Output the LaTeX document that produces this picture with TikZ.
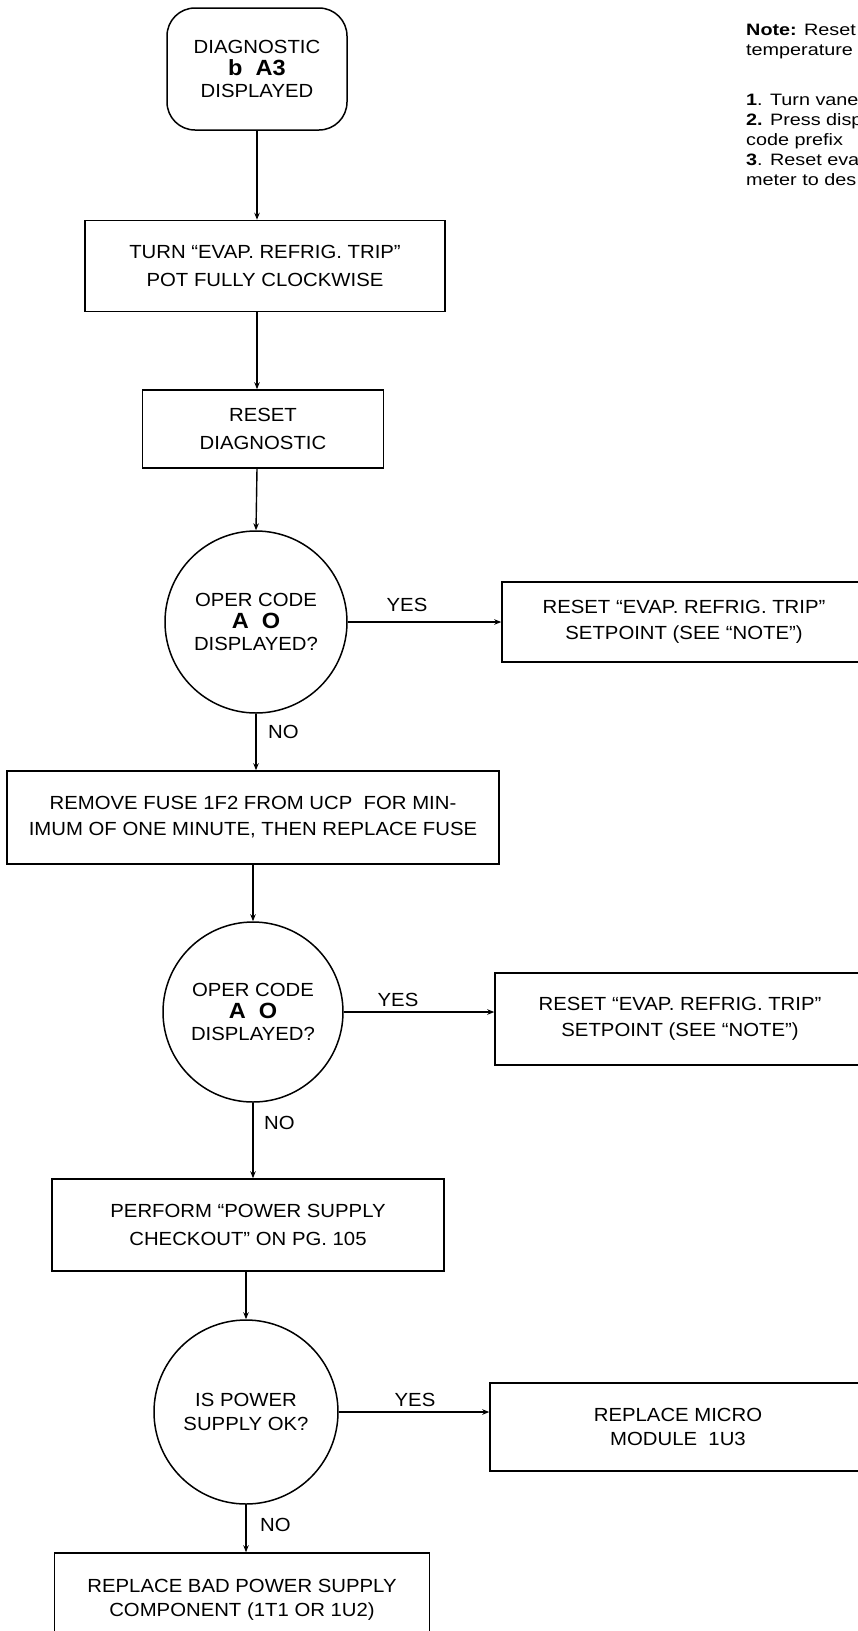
\documentclass[tikz,border=0pt]{standalone}
\usepackage{fontspec}
\setmainfont{Liberation Sans}[FakeStretch=1.07]
\newfontfamily\notefont{Liberation Sans}[FakeStretch=1.2]
\usetikzlibrary{arrows.meta}
\begin{document}
\begin{tikzpicture}[x=1pt,y=-1pt,
  every node/.style={font=\fontsize{19}{24}\selectfont},
  stepbox/.style={draw, line width=1.5pt, align=center, inner sep=0pt},
  startbox/.style={stepbox, rounded corners=28pt},
  decision/.style={circle, draw, line width=1.5pt, inner sep=0pt, align=center},
  arr/.style={line width=1.4pt, -{Stealth[length=7pt,width=5.5pt]}},
  lbl/.style={inner sep=0pt}
]
\useasboundingbox (0,0) rectangle (858,1631);
\clip (0,0) rectangle (858,1631);

% main column
\node[startbox, minimum width=180pt, minimum height=122pt] (start) at (257,69)
  {DIAGNOSTIC\\[-2pt]{\fontsize{22}{24}\selectfont\bfseries b\ \ A3}\\[-2pt]DISPLAYED};
\node[stepbox, minimum width=360pt, minimum height=91pt] (turn) at (265,266)
  {TURN “EVAP. REFRIG. TRIP”\\[4pt]POT FULLY CLOCKWISE};
\node[stepbox, minimum width=241pt, minimum height=78pt] (reset) at (263,429)
  {RESET\\[4pt]DIAGNOSTIC};
\node[decision, minimum size=182pt] (c1) at (256,622)
  {OPER CODE\\[-2pt]{\fontsize{22}{24}\selectfont\bfseries A\ \ O}\\[-2pt]DISPLAYED?};
\node[stepbox, minimum width=492pt, minimum height=93pt] (remove) at (253,817.5)
  {REMOVE FUSE 1F2 FROM UCP\ \ FOR MIN-\\[2pt]IMUM OF ONE MINUTE, THEN REPLACE FUSE};
\node[decision, minimum size=180pt] (c2) at (253,1012)
  {OPER CODE\\[-2pt]{\fontsize{22}{24}\selectfont\bfseries A\ \ O}\\[-2pt]DISPLAYED?};
\node[stepbox, minimum width=392pt, minimum height=92pt] (perform) at (248,1225)
  {PERFORM “POWER SUPPLY\\[4pt]CHECKOUT” ON PG. 105};
\node[decision, minimum size=184pt] (c3) at (246,1412)
  {IS POWER\\SUPPLY OK?};
\node[stepbox, minimum width=375pt, minimum height=94pt] (bad) at (242,1600)
  {REPLACE BAD POWER SUPPLY\\COMPONENT (1T1 OR 1U2)};

% right-hand results
\node[stepbox, minimum width=364pt, minimum height=80pt] (fix1) at (684,622)
  {RESET “EVAP. REFRIG. TRIP”\\[2pt]SETPOINT (SEE “NOTE”)};
\node[stepbox, minimum width=370pt, minimum height=92pt] (fix2) at (680,1019)
  {RESET “EVAP. REFRIG. TRIP”\\[2pt]SETPOINT (SEE “NOTE”)};
\node[stepbox, minimum width=376pt, minimum height=88pt] (micro) at (678,1427)
  {REPLACE MICRO\\MODULE\ \ 1U3};

% connectors
\draw[arr] (start.south) -- (start.south |- turn.north);
\draw[arr] (start.south |- turn.south) -- (start.south |- reset.north);
\draw[arr] (start.south |- reset.south) -- (c1.north);
\draw[arr] (c1.east) -- (c1.east -| fix1.west);
\draw[arr] (c1.south) -- (c1.south |- remove.north);
\draw[arr] (c2.north |- remove.south) -- (c2.north);
\draw[arr] (c2.east) -- (c2.east -| fix2.west);
\draw[arr] (c2.south) -- (c2.south |- perform.north);
\draw[arr] (c3.north |- perform.south) -- (c3.north);
\draw[arr] (c3.east) -- (c3.east -| micro.west);
\draw[arr] (c3.south) -- (c3.south |- bad.north);

% branch labels
\node[lbl] (yes1) at (407,605) {YES};
\node[lbl, anchor=west] (no1) at (268,732) {NO};
\node[lbl] (yes2) at (398,1000) {YES};
\node[lbl, anchor=west] (no2) at (264,1123) {NO};
\node[lbl] (yes3) at (415,1400) {YES};
\node[lbl, anchor=west] (no3) at (260,1525) {NO};

% note
\node[anchor=north west, align=left, inner sep=0pt,
      font=\notefont\fontsize{16.5}{20}\selectfont] (note) at (746,24)
  {\textbf{Note:} Reset\\temperature\\[30pt]
   \textbf{1}. Turn vane\\\textbf{2.} Press disp\\code prefix\\
   \textbf{3}. Reset eva\\meter to des};
\end{tikzpicture}
\end{document}
